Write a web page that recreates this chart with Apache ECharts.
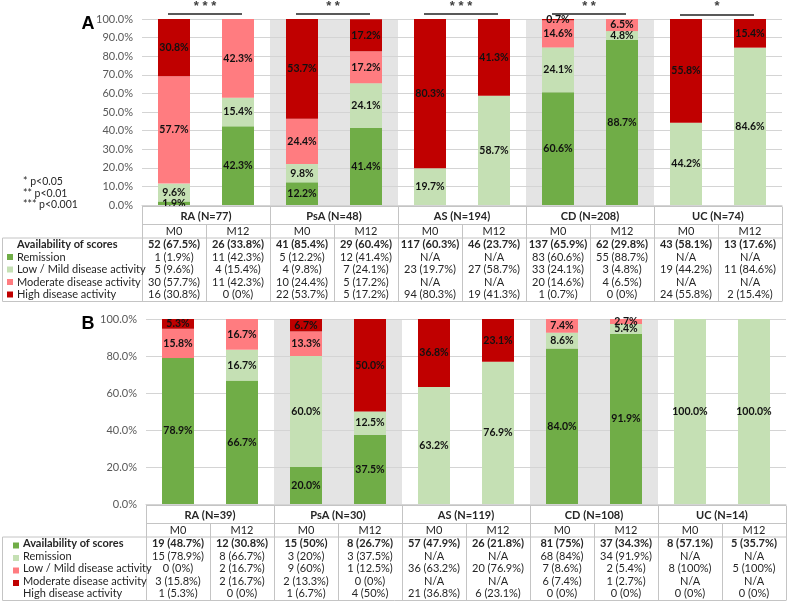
<!DOCTYPE html>
<html><head><meta charset="utf-8">
<script src="https://cdn.jsdelivr.net/npm/echarts@6/dist/echarts.min.js"></script>
<style>html,body{margin:0;padding:0;background:#fff}#c{width:788px;height:603px}</style>
</head><body><div id="c"></div>
<script>
// ---- data ----
const groups = ['RA','PsA','AS','CD','UC'];
const periods = ['M0','M12'];
const cats = [];
groups.forEach(g => periods.forEach(p => cats.push(g + ' ' + p)));

// Panel A (% of patients with available scores)
const remA  = [1.9, 42.3, 12.2, 41.4, null, null, 60.6, 88.7, null, null];
const lowA  = [9.6, 15.4, 9.8, 24.1, 19.7, 58.7, 24.1, 4.8, 44.2, 84.6];
const modA  = [57.7, 42.3, 24.4, 17.2, null, null, 14.6, 6.5, null, null];
const highA = [30.8, 0, 53.7, 17.2, 80.3, 41.3, 0.7, 0, 55.8, 15.4];

// Panel B
const remB  = [78.9, 66.7, 20.0, 37.5, null, null, 84.0, 91.9, null, null];
const lowB  = [0, 16.7, 60.0, 12.5, 63.2, 76.9, 8.6, 5.4, 100, 100];
const modB  = [15.8, 16.7, 13.3, 0, null, null, 7.4, 2.7, null, null];
const highB = [5.3, 0, 6.7, 50.0, 36.8, 23.1, 0, 0, 0, 0];

const sigStars = ['* * *', '* *', '* * *', '* *', '*'];
const footnotes = ['* p<0.05', '** p<0.01', '*** p<0.001'];
const rowLabels = ['Availability of scores','Remission','Low / Mild disease activity','Moderate disease activity','High disease activity'];

// Table A
const nA = ['RA (N=77)','PsA (N=48)','AS (N=194)','CD (N=208)','UC (N=74)'];
const availA = ['52 (67.5%)','26 (33.8%)','41 (85.4%)','29 (60.4%)','117 (60.3%)','46 (23.7%)','137 (65.9%)','62 (29.8%)','43 (58.1%)','13 (17.6%)'];
const remTA  = ['1 (1.9%)','11 (42.3%)','5 (12.2%)','12 (41.4%)','N/A','N/A','83 (60.6%)','55 (88.7%)','N/A','N/A'];
const lowTA  = ['5 (9.6%)','4 (15.4%)','4 (9.8%)','7 (24.1%)','23 (19.7%)','27 (58.7%)','33 (24.1%)','3 (4.8%)','19 (44.2%)','11 (84.6%)'];
const modTA  = ['30 (57.7%)','11 (42.3%)','10 (24.4%)','5 (17.2%)','N/A','N/A','20 (14.6%)','4 (6.5%)','N/A','N/A'];
const highTA = ['16 (30.8%)','0 (0%)','22 (53.7%)','5 (17.2%)','94 (80.3%)','19 (41.3%)','1 (0.7%)','0 (0%)','24 (55.8%)','2 (15.4%)'];

// Table B
const nB = ['RA (N=39)','PsA (N=30)','AS (N=119)','CD (N=108)','UC (N=14)'];
const availB = ['19 (48.7%)','12 (30.8%)','15 (50%)','8 (26.7%)','57 (47.9%)','26 (21.8%)','81 (75%)','37 (34.3%)','8 (57.1%)','5 (35.7%)'];
const remTB  = ['15 (78.9%)','8 (66.7%)','3 (20%)','3 (37.5%)','N/A','N/A','68 (84%)','34 (91.9%)','N/A','N/A'];
const lowTB  = ['0 (0%)','2 (16.7%)','9 (60%)','1 (12.5%)','36 (63.2%)','20 (76.9%)','7 (8.6%)','2 (5.4%)','8 (100%)','5 (100%)'];
const modTB  = ['3 (15.8%)','2 (16.7%)','2 (13.3%)','0 (0%)','N/A','N/A','6 (7.4%)','1 (2.7%)','N/A','N/A'];
const highTB = ['1 (5.3%)','0 (0%)','1 (6.7%)','4 (50%)','21 (36.8%)','6 (23.1%)','0 (0%)','0 (0%)','0 (0%)','0 (0%)'];

// ---- styles ----
const COLORS = ['#70AD47','#C5E0B4','#FF7C80','#C00000'];
const FONT = 'Lato, "Open Sans", sans-serif';
const chart = echarts.init(document.getElementById('c'), null, {renderer:'canvas'});

function mkSeries(arrs, xi, stack){
  return arrs.map((d, i) => ({
    type:'bar', stack, xAxisIndex:xi, yAxisIndex:xi, barWidth:'50%',
    data:d, itemStyle:{color:COLORS[i]},
    label:{show:true, position:'inside', color:'#111', fontFamily:FONT, fontWeight:'bold', fontSize:10.5,
      formatter:p => (p.value > 0 ? p.value.toFixed(1) + '%' : '')},
    emphasis:{disabled:true}, z:3
  }));
}
function xAx(gi){
  return {type:'category', gridIndex:gi, data:cats, boundaryGap:true,
    axisLabel:{show:false}, axisTick:{show:false},
    axisLine:{show:true, lineStyle:{color:'#d0d0d0'}},
    splitLine:{show:false},
    splitArea:{show:true, areaStyle:{color:['#ffffff','#ffffff','#e4e4e4','#e4e4e4']}}, z:0};
}
function yAx(gi, iv){
  return {type:'value', gridIndex:gi, min:0, max:100, interval:iv,
    axisLabel:{color:'#595959', fontFamily:FONT, fontSize:11, margin:9, formatter:v => v.toFixed(1) + '%'},
    axisLine:{show:false}, axisTick:{show:false},
    splitLine:{lineStyle:{color:'#d4d4d4'}}, z:1};
}

chart.setOption({
  animation:false,
  grid:[{left:142, top:19, width:640, height:186},{left:146, top:319, width:640, height:185}],
  xAxis:[xAx(0), xAx(1)],
  yAxis:[yAx(0,10), yAx(1,20)],
  series:[...mkSeries([remA,lowA,modA,highA],0,'a'), ...mkSeries([remB,lowB,modB,highB],1,'b')]
});

// ---- tables & annotations ----
const G = [];
const LINE = '#c4c4c4';
const TXT = '#262626';
function text(t, x, y, opt){
  opt = opt || {};
  G.push({type:'text', x, y, silent:true, z:10, style:{text:t, fill:opt.fill||TXT,
    font:(opt.bold?'bold ':'') + (opt.size||11) + 'px ' + (opt.family||FONT),
    align:opt.align||'center', textAlign:opt.align||'center',
    verticalAlign:opt.va||'middle', textVerticalAlign:opt.va||'middle'}});
}
function line(x1,y1,x2,y2,c,w){
  G.push({type:'line', silent:true, z:10, shape:{x1,y1,x2,y2}, style:{stroke:c||LINE, lineWidth:w||1}});
}
function rect(x,y,w,h,c){
  G.push({type:'rect', silent:true, z:10, shape:{x,y,width:w,height:h}, style:{fill:c}});
}

function drawTable(xi, nArr, rows, sqX, sqColors, sqDy, labX){
  const cx = cats.map(c => chart.convertToPixel({xAxisIndex:xi}, c));
  const bot = chart.convertToPixel({yAxisIndex:xi}, 0);
  const half = (cx[1]-cx[0]) / 2;
  const L = cx[0]-half, R = cx[9]+half;
  const top = Math.round(bot)+1.5;
  const sep1 = top + 18, sep2 = top + 31.5, end = top + 95;
  line(L, top, R, top);
  line(L, sep1, R, sep1);
  line(2.5, sep2, R, sep2);
  line(2.5, end, R, end);
  line(2.5, sep2, 2.5, end);
  for (let g = 0; g <= 5; g++) { const x = Math.round(L + g*4*half)+0.5; line(x, top, x, end); }
  for (let g = 0; g < 5; g++) { const x = Math.round(cx[2*g]+half)+0.5; line(x, sep1, x, end); }
  nArr.forEach((t,g) => text(t, (cx[2*g]+cx[2*g+1])/2, top+10, {bold:true}));
  cx.forEach((x,i) => text(periods[i%2], x, top+25));
  const rowY = [38, 50.5, 63, 75.5, 88].map(v => top + v);
  rows.forEach((arr, r) => {
    arr.forEach((t,i) => text(t, cx[i], rowY[r], {bold:r===0}));
    text(rowLabels[r], labX, rowY[r], {bold:r===0, align:'left'});
  });
  sqColors.forEach((c, r) => { if (c) rect(sqX, rowY[r]-3 + sqDy, 6, 6, c); });
}

drawTable(0, nA, [availA, remTA, lowTA, modTA, highTA], 7, [null].concat(COLORS), 0, 17);
drawTable(1, nB, [availB, remTB, lowTB, modTB, highTB], 13, COLORS.concat([null]), 2, 23);

// significance brackets (panel A)
groups.forEach((g, k) => {
  const x0 = chart.convertToPixel({xAxisIndex:0}, cats[2*k]);
  const x1 = chart.convertToPixel({xAxisIndex:0}, cats[2*k+1]);
  const yl = k === 4 ? 15 : 14;
  line(x0 - 6, yl, x1 + 4, yl, '#595959', 2);
  text(sigStars[k], (x0 + x1) / 2 - 1, 0, {bold:true, size:13, va:'top', family:'Arial, "Liberation Sans", sans-serif', fill:'#404040'});
});

// footnotes
footnotes.forEach((t, i) => text(t, 23, 182 + i*11.5, {align:'left', size:10.5}));

// panel letters
text('A', 88, 24, {bold:true, size:18, family:'Arial, "Liberation Sans", sans-serif', fill:'#000'});
text('B', 88, 324, {bold:true, size:18, family:'Arial, "Liberation Sans", sans-serif', fill:'#000'});

chart.setOption({graphic:{elements:G}});
</script></body></html>
